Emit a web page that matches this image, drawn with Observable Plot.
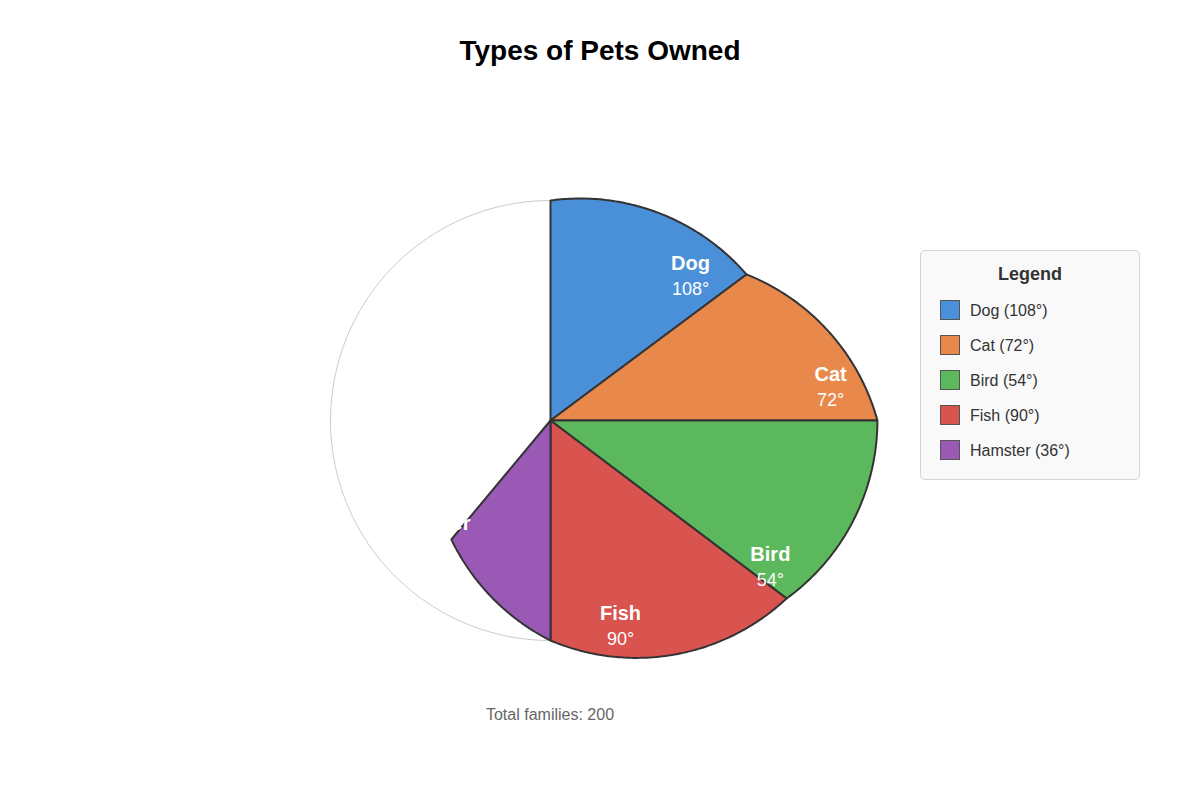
<!DOCTYPE html>
<html>
<head>
<meta charset="utf-8">
<script src="https://cdn.jsdelivr.net/npm/d3@7"></script>
<script src="https://cdn.jsdelivr.net/npm/@observablehq/plot@0.6"></script>
<style>
  html, body { margin: 0; padding: 0; background: #fff; }
  body { width: 1200px; height: 800px; position: relative; overflow: hidden;
         font-family: "Liberation Sans", Arial, sans-serif; }
  #title { position: absolute; left: 0; width: 1200px; top: 34.7px; text-align: center;
           font-size: 28px; font-weight: bold; color: #000; line-height: normal; }
  #chart { position: absolute; left: 0; top: 100px; }
  #caption { position: absolute; left: 350px; width: 400px; top: 705.5px; text-align: center;
             font-size: 16px; color: #666; line-height: normal; }
  #legend { position: absolute; left: 920px; top: 250px; width: 220px; height: 230px;
            box-sizing: border-box; background: #f9f9f9; border: 1px solid #d4d4d4; border-radius: 5px; }
  #legend .lt { position: absolute; left: 0; width: 218px; top: 12.7px; text-align: center;
                font-size: 18px; font-weight: bold; color: #333; line-height: normal; }
  #legend .sw { position: absolute; left: 19px; width: 20px; height: 20px; box-sizing: border-box;
                border: 1px solid #555; }
  #legend .tx { position: absolute; left: 49px; font-size: 16px; color: #333; line-height: normal; }
</style>
</head>
<body>
<div id="title">Types of Pets Owned</div>
<div id="chart"></div>
<div id="caption">Total families: 200</div>
<div id="legend"></div>
<script>
// ---- data ----
const categories = ["Dog", "Cat", "Bird", "Fish", "Hamster"];
const degrees = [108, 72, 54, 90, 36];
const colors = ["#4a90d9", "#e8884a", "#5cb85c", "#d9534f", "#9b59b6"];
const totalFamilies = 200;
// slice edges as drawn: direction (degrees clockwise from 12 o'clock) and reach (outline radius = 1)
const edgeAngles = [0, 53.3, 90, 127.0, 180, 219.8];
const edgeReach = [1.0, 1.111, 1.486, 1.344, 1.0, 0.704];
// label anchors as drawn: direction and reach
const labelAngles = [43.0, 81.9, 122.5, 160.7, 227.5];
const labelReach = [0.933, 1.286, 1.185, 0.963, 0.740];

// ---- geometry helpers (unit space, y pointing down) ----
const rad = d => d * Math.PI / 180;
const polar = (a, r) => ({x: r * Math.sin(rad(a)), y: -r * Math.cos(rad(a))});

function arcPoints(p0, p1, R, n) {
  const dx = p1.x - p0.x, dy = p1.y - p0.y;
  const len = Math.hypot(dx, dy), h = len / 2;
  const Rr = Math.max(R, h);
  const d = Math.sqrt(Math.max(0, Rr * Rr - h * h));
  const ux = dx / len, uy = dy / len;
  const cx = (p0.x + p1.x) / 2 - uy * d, cy = (p0.y + p1.y) / 2 + ux * d;
  let f0 = Math.atan2(p0.y - cy, p0.x - cx), f1 = Math.atan2(p1.y - cy, p1.x - cx);
  while (f1 < f0) f1 += 2 * Math.PI;
  const pts = [];
  for (let i = 0; i <= n; i++) {
    const f = f0 + (f1 - f0) * i / n;
    pts.push({x: cx + Rr * Math.cos(f), y: cy + Rr * Math.sin(f)});
  }
  return pts;
}

const slices = categories.map((name, i) => {
  const p0 = polar(edgeAngles[i], edgeReach[i]);
  const p1 = polar(edgeAngles[i + 1], edgeReach[i + 1]);
  return [{x: 0, y: 0}, ...arcPoints(p0, p1, 1, 80), {x: 0, y: 0}];
});

const outline = d3.range(0, 361, 2).map(a => polar(a, 1));

const labels = categories.map((name, i) => ({
  ...polar(labelAngles[i], labelReach[i]), name, value: `${degrees[i]}°`
}));

const font = "'Liberation Sans', Arial, sans-serif";

const plot = Plot.plot({
  width: 1200,
  height: 580,
  margin: 0,
  x: {domain: [-550 / 220, 650 / 220], axis: null},
  y: {domain: [-320 / 220, 260 / 220], reverse: true, axis: null},
  style: {fontFamily: font, background: "transparent", overflow: "visible"},
  marks: [
    Plot.line(outline, {x: "x", y: "y", stroke: "#cccccc", strokeWidth: 1, fill: "none"}),
    ...slices.map((pts, i) => Plot.line(pts, {
      x: "x", y: "y", fill: colors[i], stroke: "#333333", strokeWidth: 2,
      strokeLinejoin: "miter", curve: "linear"
    })),
    Plot.text(labels, {x: "x", y: "y", text: "name", fill: "white", fontSize: 20,
      fontWeight: "bold", textAnchor: "middle", lineAnchor: "bottom", fontFamily: font}),
    Plot.text(labels, {x: "x", y: "y", text: "value", fill: "white", fontSize: 18,
      textAnchor: "middle", lineAnchor: "bottom", dy: 25, fontFamily: font})
  ]
});
document.getElementById("chart").appendChild(plot);

document.getElementById("caption").textContent = `Total families: ${totalFamilies}`;

const legend = document.getElementById("legend");
const lt = document.createElement("div");
lt.className = "lt"; lt.textContent = "Legend";
legend.appendChild(lt);
categories.forEach((name, i) => {
  const sw = document.createElement("div");
  sw.className = "sw";
  sw.style.top = (49 + i * 35) + "px";
  sw.style.background = colors[i];
  legend.appendChild(sw);
  const tx = document.createElement("div");
  tx.className = "tx";
  tx.style.top = (50.5 + i * 35) + "px";
  tx.textContent = `${name} (${degrees[i]}°)`;
  legend.appendChild(tx);
});
</script>
</body>
</html>
